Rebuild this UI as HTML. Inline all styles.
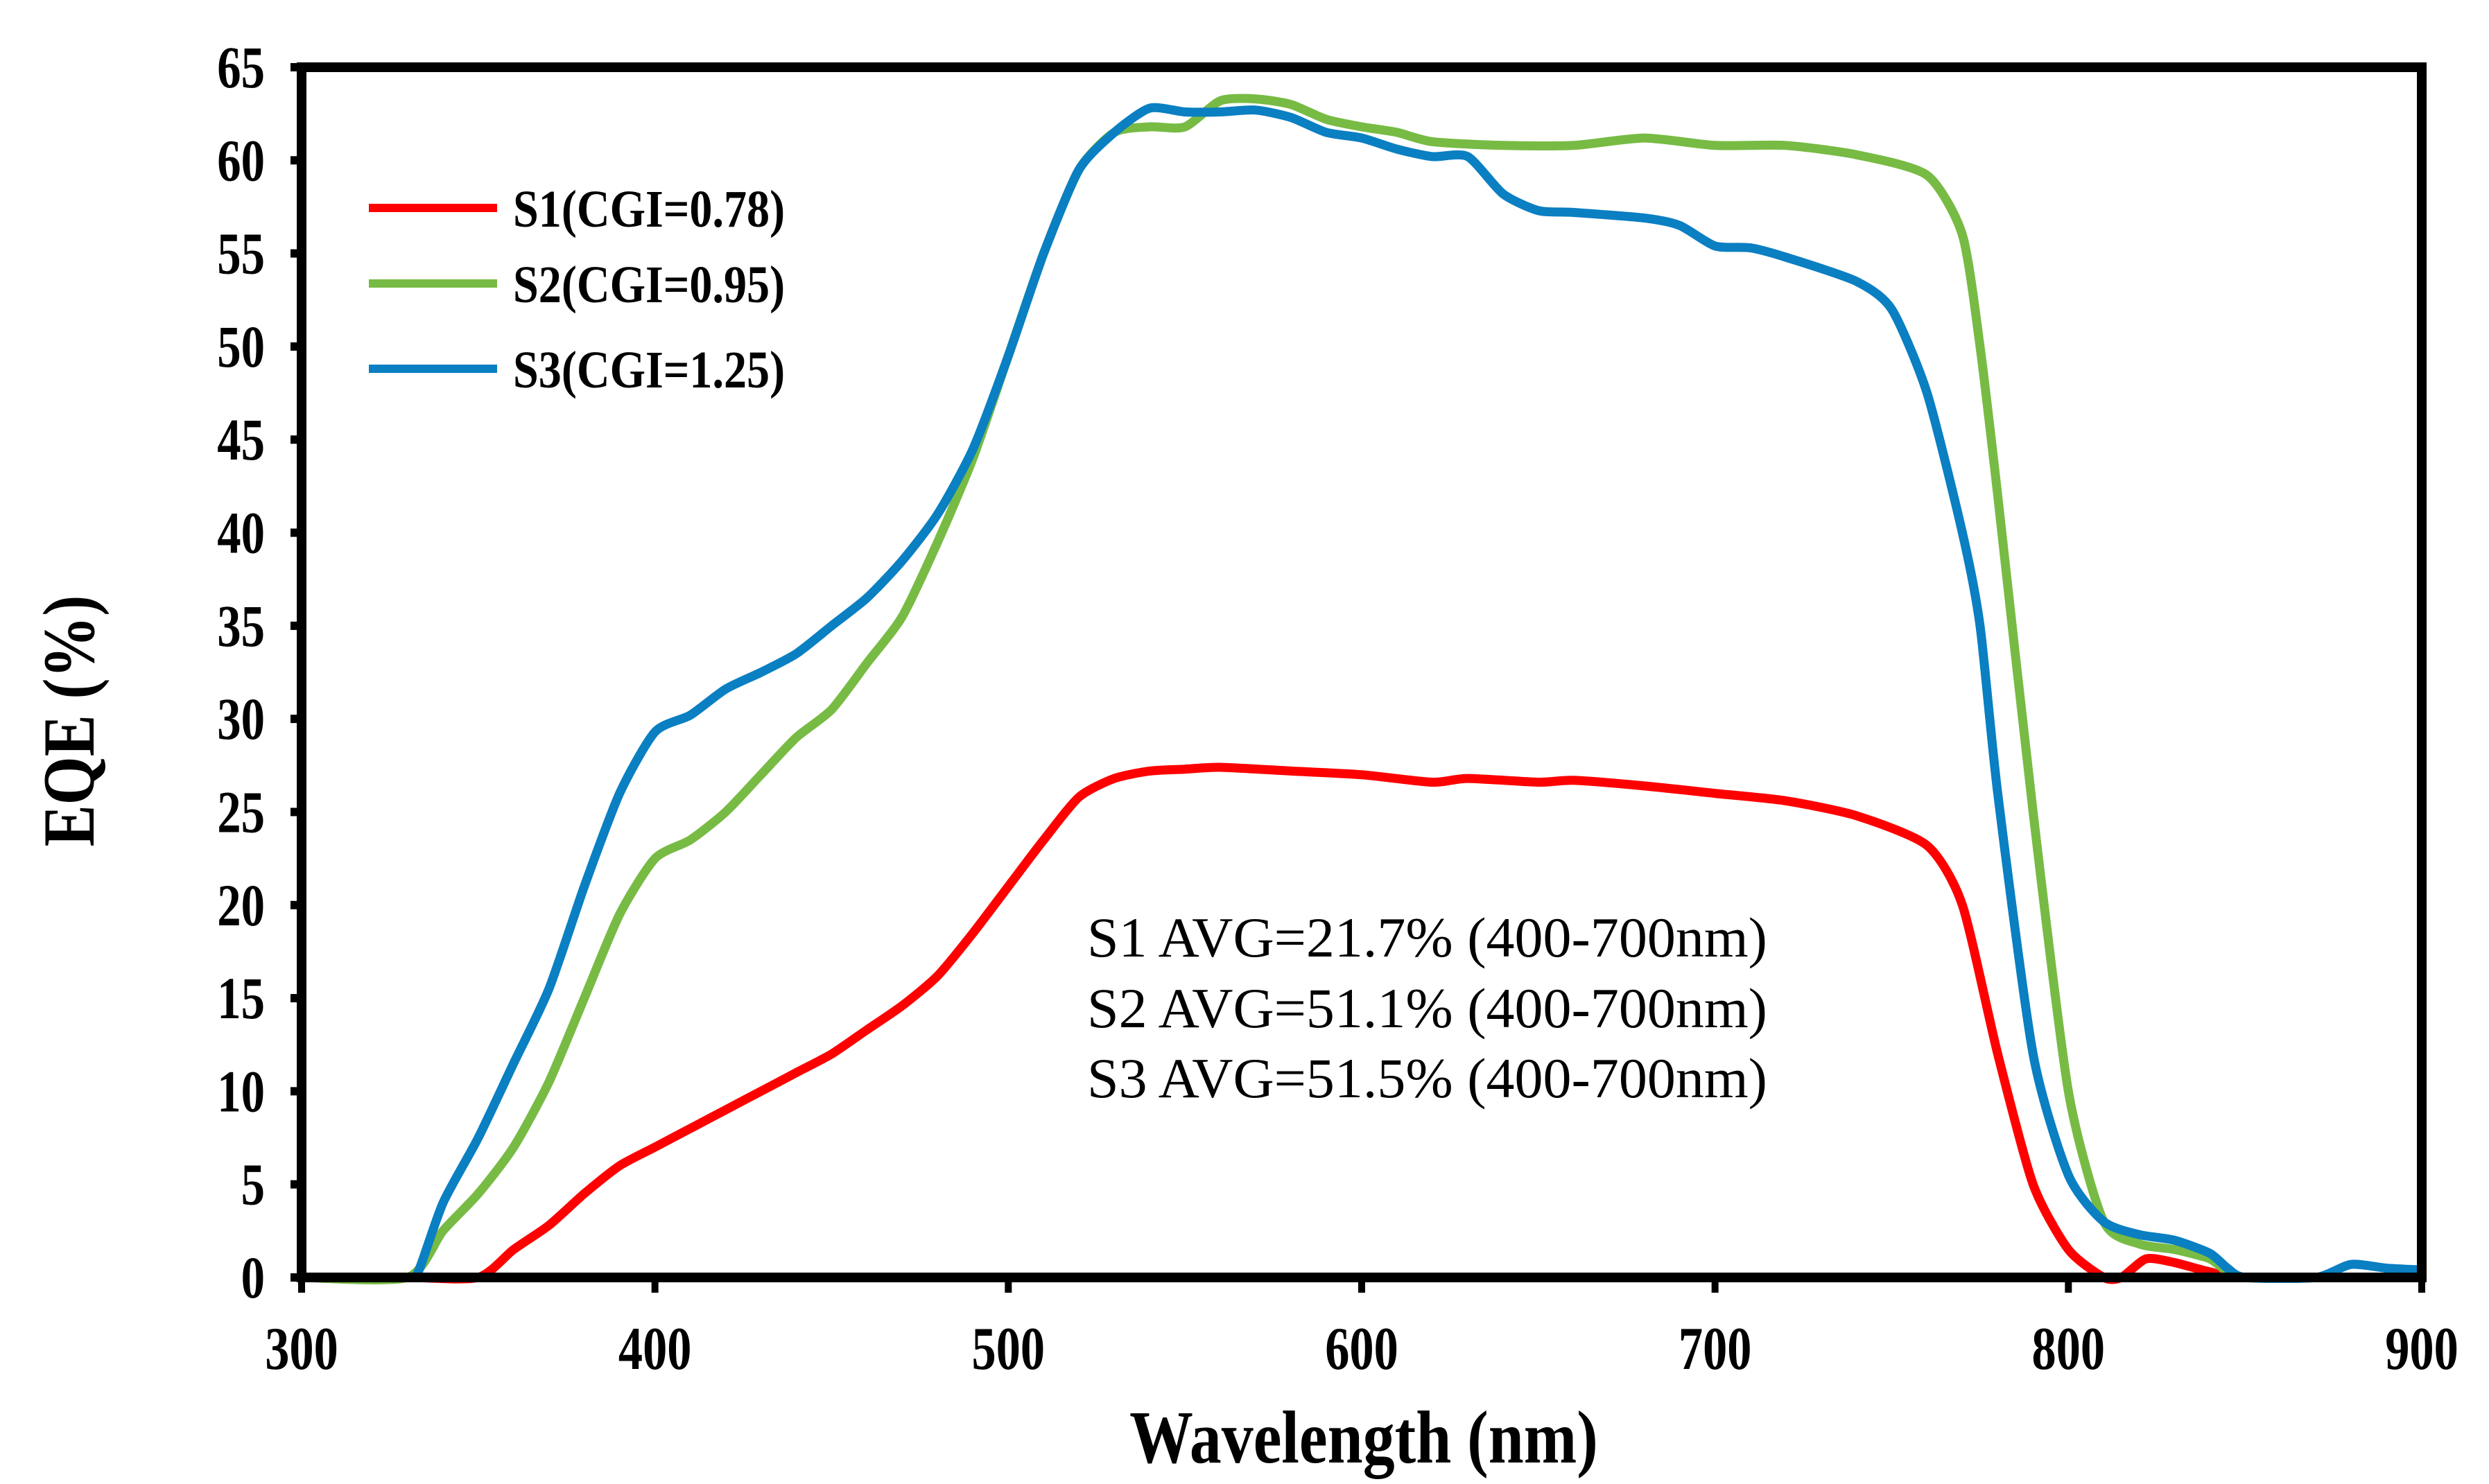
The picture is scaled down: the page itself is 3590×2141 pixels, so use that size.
<!DOCTYPE html>
<html><head><meta charset="utf-8"><style>
html,body{margin:0;padding:0;background:#fff;}
svg{display:block;}
text{font-family:"Liberation Serif",serif;}
</style></head><body>
<svg id="chart" width="3590" height="2141" viewBox="0 0 3590 2141" xmlns="http://www.w3.org/2000/svg">
<g id="plot"></g>
</svg>
<script>
const xTicks=[300,400,500,600,700,800,900];
const yTicks=[0,5,10,15,20,25,30,35,40,45,50,55,60,65];
const s1X=[300,330,350,360,370,380,390,400,410,420,430,440,450,460,470,480,490,500,510,520,530,540,550,560,580,600,620,630,650,660,680,700,720,740,760,770,780,790,800,810,815,822,830,840,850,900];
const s1Y=[0,0,0,1.5,2.8,4.5,6,7,8,9,10,11,12,13.3,14.6,16.2,18.5,21,23.5,25.8,26.8,27.2,27.3,27.4,27.2,27,26.6,26.8,26.6,26.7,26.4,26,25.6,24.8,23.2,20,12,5,1.5,0,0,1,0.8,0.3,0,0];
const s2X=[300,330,340,350,360,370,380,390,400,410,420,430,440,450,460,470,480,490,500,510,520,530,540,550,560,570,580,590,600,610,620,640,660,680,700,720,740,760,770,775,780,790,800,810,820,830,840,845,850,880,900];
const s2Y=[0,0,2.5,4.5,7,10.5,15,19.5,22.5,23.5,25,27,29,30.5,33,35.5,39.5,44,49.5,55,59.5,61.5,61.8,61.8,63.2,63.3,63,62.2,61.8,61.5,61,60.8,60.8,61.2,60.8,60.8,60.3,59.2,56,50,42,25,10,3,1.8,1.5,1,0.3,0,0,0];
const s3X=[300,330,333,340,350,360,370,380,390,400,410,420,430,440,450,460,470,480,490,500,510,520,530,540,550,560,570,580,590,600,610,620,630,640,650,660,680,690,700,710,720,740,750,760,770,775,780,790,800,810,820,830,840,845,850,870,880,890,900];
const s3Y=[0,0,0.3,4,7.5,11.5,15.5,21,26,29.3,30.2,31.6,32.5,33.5,35,36.5,38.5,41,44.5,49.5,55,59.5,61.5,62.8,62.6,62.6,62.7,62.3,61.5,61.2,60.6,60.2,60.2,58.2,57.3,57.2,56.9,56.5,55.4,55.3,54.8,53.5,52,47.5,40,35,26,12,5.5,3,2.3,2,1.3,0.5,0,0,0.7,0.5,0.4];
const seriesNames=["S1(CGI=0.78)","S2(CGI=0.95)","S3(CGI=1.25)"];
const avgLabels=["S1 AVG=21.7% (400-700nm)","S2 AVG=51.1% (400-700nm)","S3 AVG=51.5% (400-700nm)"];

const NS="http://www.w3.org/2000/svg";
const L=435,R=3493,T=97,B=1843;
const sx=v=>L+(v-300)/(900-300)*(R-L);
const sy=v=>B-(v/65)*(B-T);
const g=document.getElementById('plot');
function mk(tag,attrs,parent){const e=document.createElementNS(NS,tag);for(const k in attrs)e.setAttribute(k,attrs[k]);(parent||g).appendChild(e);return e;}
function smooth(P){
  let d="M"+P[0][0].toFixed(1)+","+P[0][1].toFixed(1);
  const t=0.35;
  for(let i=0;i<P.length-1;i++){
    const p0=P[Math.max(0,i-1)],p1=P[i],p2=P[i+1],p3=P[Math.min(P.length-1,i+2)];
    const c1=[p1[0]+(p2[0]-p0[0])*t/2*0.66,p1[1]+(p2[1]-p0[1])*t/2*0.66];
    const c2=[p2[0]-(p3[0]-p1[0])*t/2*0.66,p2[1]-(p3[1]-p1[1])*t/2*0.66];
    d+=" C"+c1[0].toFixed(1)+","+c1[1].toFixed(1)+" "+c2[0].toFixed(1)+","+c2[1].toFixed(1)+" "+p2[0].toFixed(1)+","+p2[1].toFixed(1);
  }
  return d;
}

const colors=["#ff0000","#77bb44","#0a7fc2"];
const names=["series-s1","series-s2","series-s3"];
[[s1X,s1Y],[s2X,s2Y],[s3X,s3Y]].forEach((s,i)=>{
  const P=s[0].map((x,j)=>[sx(x),sy(s[1][j])]);
  const p=mk('path',{d:smooth(P),fill:"none",stroke:colors[i],"stroke-width":13,"stroke-linejoin":"round","stroke-linecap":"round"});
  
  
});

const fr=mk('rect',{x:L,y:T,width:R-L,height:B-T,fill:"none",stroke:"#000","stroke-width":14});



yTicks.forEach(v=>{
  const t=mk('line',{x1:L-16,x2:L,y1:sy(v),y2:sy(v),stroke:"#000","stroke-width":12});
  
  
  const lb=mk('text',{x:0,y:0,"font-size":86,"font-weight":"bold","text-anchor":"end",transform:`translate(382,${sy(v)+29}) scale(0.8,1)`});
  lb.textContent=v;
  
  
});
xTicks.forEach(v=>{
  const t=mk('line',{x1:sx(v),x2:sx(v),y1:B,y2:B+22,stroke:"#000","stroke-width":10});
  
  
  const lb=mk('text',{x:0,y:0,"font-size":88,"font-weight":"bold","text-anchor":"middle",transform:`translate(${sx(v)},1975) scale(0.8,1)`});
  lb.textContent=v;
  
  
});
const xt=mk('text',{x:0,y:0,"font-size":108,"font-weight":"bold","text-anchor":"middle",transform:"translate(1967,2110) scale(0.85,1)"});
xt.textContent="Wavelength (nm)";


const yt=mk('text',{x:0,y:0,"font-size":106,"font-weight":"bold","text-anchor":"middle",transform:"translate(135,1040) rotate(-90) scale(0.85,1)"});
yt.textContent="EQE (%)";



const legY=[300,409,532];
seriesNames.forEach((n,i)=>{
  const ln=mk('line',{x1:532,x2:717,y1:legY[i],y2:legY[i],stroke:colors[i],"stroke-width":12});
  
  
  const tx=mk('text',{x:0,y:0,"font-size":76,"font-weight":"bold",transform:`translate(740,${legY[i]+27}) scale(0.87,1)`});
  tx.textContent=n;
  
  
});
const annY=[1380,1482,1583];
avgLabels.forEach((s,i)=>{
  const tx=mk('text',{x:1568,y:annY[i],"font-size":82});
  tx.textContent=s;
  
  
});
</script>
</body></html>
